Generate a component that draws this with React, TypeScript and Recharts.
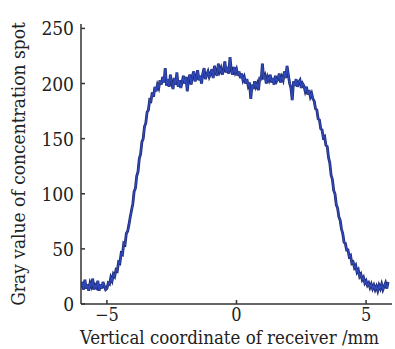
import React from "react";
import { LineChart, Line, XAxis, YAxis, Label } from "recharts";

// sampling grid of the measured profile (mm)
const X_START = -6;
const X_STEP = 0.05;

// gray values, one per sample
const grayValues: number[] = [
  15, 20, 13, 22, 14, 18, 12, 19, 16, 23, 13, 17, 15, 21, 12, 18, 14, 20, 16, 13,
  14, 19, 18, 24, 21, 27, 25, 31, 30, 38, 37, 46, 45, 55, 54, 64, 66, 72, 79, 85,
  91, 102, 105, 116, 120, 132, 136, 147, 150, 161, 164, 174, 176, 185, 184, 192, 188, 197, 193, 199,
  196, 203, 199, 206, 201, 214, 198, 204, 197, 208, 200, 195, 205, 199, 210, 197, 203, 196, 201, 207,
  200, 206, 193, 204, 208, 199, 207, 211, 202, 205, 212, 203, 207, 200, 209, 214, 204, 208, 211, 206,
  209, 213, 205, 216, 210, 207, 218, 211, 214, 208, 212, 220, 210, 215, 209, 224, 212, 208, 215, 210,
  213, 207, 211, 205, 209, 203, 206, 200, 204, 198, 201, 186, 199, 195, 202, 197, 200, 194, 206, 203,
  218, 204, 207, 200, 206, 203, 208, 201, 205, 199, 207, 202, 204, 209, 201, 206, 203, 211, 205, 216,
  208, 200, 196, 185, 202, 198, 204, 197, 201, 203, 196, 200, 198, 193, 197, 190, 194, 188, 191, 186,
  184, 177, 176, 168, 167, 159, 158, 151, 152, 144, 143, 133, 128, 117, 113, 103, 100, 90, 87, 79,
  76, 68, 64, 56, 55, 49, 49, 43, 44, 37, 38, 33, 35, 29, 31, 25, 27, 22, 24, 19,
  21, 17, 19, 15, 18, 14, 17, 13, 16, 12, 17, 14, 18, 13, 16, 19, 14, 20,
];

const xTicks = [-5, 0, 5];
const yTicks = [0, 50, 100, 150, 200, 250];
const xLabel = "Vertical coordinate of receiver /mm";
const yLabel = "Gray value of concentration spot";

const data = grayValues.map((v, i) => ({
  x: Math.round((X_START + i * X_STEP) * 100) / 100,
  y: v,
}));

const FONT = "DejaVu Serif Condensed, DejaVu Serif, serif";
const TEXT = "#222";
const AXIS = "#333";
const fmt = (v: number) => (v < 0 ? "\u2212" + Math.abs(v) : String(v));

const XTick = (props: any) => {
  const { x, y, payload } = props;
  return (
    <g>
      <line x1={x} x2={x} y1={y} y2={y - 4} stroke={AXIS} strokeWidth={1.5} />
      <text x={x} y={y + 17} textAnchor="middle" fill={TEXT} fontSize={18} fontFamily={FONT}>
        {fmt(payload.value)}
      </text>
    </g>
  );
};

const YTick = (props: any) => {
  const { x, y, payload } = props;
  return (
    <g>
      <line x1={x} x2={x + 4} y1={y} y2={y} stroke={AXIS} strokeWidth={1.5} />
      <text x={x - 7} y={y + 7} textAnchor="end" fill={TEXT} fontSize={19} fontFamily={FONT}>
        {fmt(payload.value)}
      </text>
    </g>
  );
};

export default function App() {
  return (
    <div style={{ position: "absolute", left: 0, top: 0, width: 395, height: 349, background: "#fff" }}>
      <LineChart
        width={395}
        height={349}
        data={data}
        margin={{ top: 24, right: 3, left: 0, bottom: 0 }}
      >
        <XAxis
          dataKey="x"
          type="number"
          domain={[-6, 6]}
          ticks={xTicks}
          height={45}
          tickSize={0}
          tickMargin={0}
          tickLine={false}
          axisLine={{ stroke: AXIS, strokeWidth: 1.5 }}
          tick={<XTick />}
          allowDataOverflow
        >
          <Label
            value={xLabel}
            position="center"
            dx={-7}
            dy={11}
            style={{ fill: TEXT, fontSize: 18.5, fontFamily: FONT }}
          />
        </XAxis>
        <YAxis
          dataKey="y"
          type="number"
          domain={[0, 254]}
          ticks={yTicks}
          width={81}
          tickSize={0}
          tickMargin={0}
          tickLine={false}
          axisLine={{ stroke: AXIS, strokeWidth: 1.5 }}
          tick={<YTick />}
          allowDataOverflow
        >
          <Label
            value={yLabel}
            position="center"
            angle={-90}
            dx={-22}
            style={{ fill: TEXT, fontSize: 19, fontFamily: FONT, textAnchor: "middle" }}
          />
        </YAxis>
        <Line
          type="linear"
          dataKey="y"
          stroke="#1f2a72"
          strokeWidth={2.8}
          dot={false}
          isAnimationActive={false}
        />
        <Line
          type="linear"
          dataKey="y"
          stroke="#2f48b8"
          strokeWidth={1.4}
          dot={false}
          isAnimationActive={false}
        />
      </LineChart>
    </div>
  );
}
